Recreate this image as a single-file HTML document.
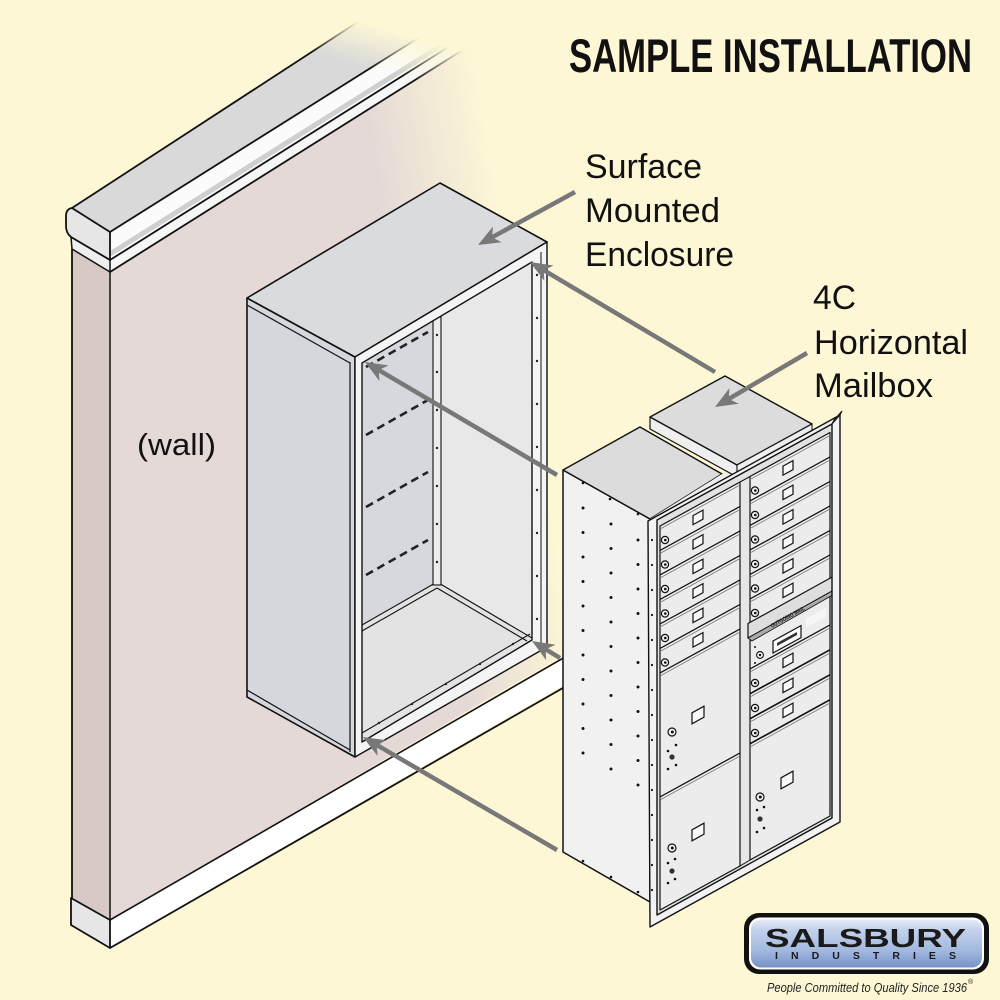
<!DOCTYPE html>
<html><head><meta charset="utf-8"><title>Sample Installation</title>
<style>html,body{margin:0;padding:0;background:#fdf7d6;width:1000px;height:1000px;overflow:hidden}svg{display:block}</style>
</head><body>
<svg width="1000" height="1000" viewBox="0 0 1000 1000" xmlns="http://www.w3.org/2000/svg">
<defs>
 <linearGradient id="fade" gradientUnits="userSpaceOnUse" x1="411" y1="370" x2="524" y2="351">
  <stop offset="0" stop-color="#fff"/><stop offset="1" stop-color="#000"/>
 </linearGradient>
 <mask id="wm" maskUnits="userSpaceOnUse" x="0" y="-200" width="1000" height="1200">
  <rect x="0" y="-200" width="1000" height="1200" fill="url(#fade)"/>
 </mask>
 <linearGradient id="capfade" gradientUnits="userSpaceOnUse" x1="335" y1="58" x2="346" y2="18">
  <stop offset="0" stop-color="#fff"/><stop offset="1" stop-color="#000"/>
 </linearGradient>
 <mask id="cm" maskUnits="userSpaceOnUse" x="0" y="-200" width="1000" height="1200">
  <rect x="0" y="-200" width="1000" height="1200" fill="url(#capfade)"/>
 </mask>
 <linearGradient id="blue" x1="0" y1="0" x2="0" y2="1">
  <stop offset="0" stop-color="#e4ebf7"/><stop offset="0.2" stop-color="#c5d3ec"/><stop offset="0.65" stop-color="#a2b8df"/><stop offset="1" stop-color="#7592c8"/>
 </linearGradient>
 <g id="sd">
  <polygon points="0,0 80,-44 80,-19.5 0,24.5" fill="#ececec" stroke="#111" stroke-width="1.2" stroke-linejoin="round"/>
  <line x1="0" y1="3" x2="80" y2="-41" stroke="#777" stroke-width="0.8"/>
  <polygon points="33,-10.4 43,-15.9 43,-6.9 33,-1.4" fill="#f8f8f8" stroke="#111" stroke-width="1.2"/>
  <circle cx="5" cy="14" r="3.6" fill="#f4f4f4" stroke="#111" stroke-width="1.2"/>
  <circle cx="5.3" cy="14" r="1.3" fill="#111"/>
 </g>
</defs>
<rect width="1000" height="1000" fill="#fdf7d6"/>

<!-- WALL face (faded) -->
<g mask="url(#wm)">
 <polygon points="110,272 760,-137 760,540 110,920" fill="#e4d9d6"/>
</g>
<!-- CAP (faded) -->
<g mask="url(#cm)">
 <polygon points="72,208 110,232 620,-89 582,-124" fill="#d9d9d9"/>
 <polygon points="110,232 620,-89 620,-61 110,260" fill="#fbfbfb"/>
 <line x1="110" y1="254" x2="620" y2="-67" stroke="#cfcfcf" stroke-width="5"/>
 <polygon points="110,260 620,-61 620,-49 110,272" fill="#f6f6f6"/>
 <g stroke="#111" stroke-width="1.8" fill="none">
  <line x1="72" y1="208" x2="582" y2="-124"/>
  <line x1="110" y1="232" x2="620" y2="-89"/>
  <line x1="110" y1="260" x2="620" y2="-61"/>
  <line x1="110" y1="272" x2="620" y2="-49"/>
 </g>
</g>
<!-- wall narrow face -->
<polygon points="72,249 110,272 110,920 72,898" fill="#d8c9c7"/>
<line x1="72" y1="249" x2="72" y2="898" stroke="#111" stroke-width="1.8"/>
<line x1="110" y1="272" x2="110" y2="920" stroke="#111" stroke-width="1.5"/>
<!-- molding front end -->
<polygon points="71,237 110,260 110,272 72,249" fill="#eeeeee" stroke="#111" stroke-width="1.5" stroke-linejoin="round"/>
<!-- cap front end -->
<path d="M72,208 L110,232 L110,260 L71,237 Q66,233 66,226 L66,216 Q66,209 72,208 Z" fill="#e6e6e6" stroke="#111" stroke-width="1.8" stroke-linejoin="round"/>
<!-- baseboard -->
<polygon points="110,920 620,625 620,652 110,948" fill="#ffffff"/>
<polygon points="71,898 110,920 110,948 71,925" fill="#e6e6e6" stroke="#111" stroke-width="1.8" stroke-linejoin="round"/>
<line x1="110" y1="920" x2="600" y2="636.8" stroke="#111" stroke-width="1.6"/>
<line x1="110" y1="948" x2="600" y2="666.7" stroke="#111" stroke-width="1.8"/>

<!-- ENCLOSURE -->
<polygon points="247,298 355,357 355,757 247,697" fill="#d4d7db" stroke="#111" stroke-width="1.6" stroke-linejoin="round"/>
<line x1="247" y1="305" x2="350" y2="363" stroke="#111" stroke-width="1.2"/>
<line x1="247" y1="690" x2="350" y2="750" stroke="#111" stroke-width="1.2"/>
<line x1="350" y1="362" x2="350" y2="752" stroke="#111" stroke-width="1.2"/>
<polygon points="247,298 440,183 547,242 355,357" fill="#d9dbdf" stroke="#111" stroke-width="1.6" stroke-linejoin="round"/>
<!-- interior -->
<polygon points="362,363 437,318 437,582 362,625" fill="#d5d8dc"/>
<polygon points="437,318 532,262 532,638 437,582" fill="#e8e8e8"/>
<polygon points="362,625 437,582 532,638 532,642 362,742" fill="#e3e3e3"/>
<g stroke="#111" stroke-width="1.1" fill="none">
 <line x1="362" y1="625" x2="437" y2="582"/>
 <line x1="362" y1="631" x2="437" y2="588"/>
 <line x1="437" y1="582" x2="532" y2="638"/>
 <line x1="437" y1="588" x2="527" y2="641"/>
 <line x1="362" y1="733" x2="530" y2="634"/>
</g>
<rect x="433" y="317" width="8" height="268" fill="#ececec" stroke="#111" stroke-width="1.1"/>
<g fill="#222">
 <circle cx="437" cy="335" r="1.2"/><circle cx="437" cy="372" r="1.2"/><circle cx="437" cy="410" r="1.2"/><circle cx="437" cy="448" r="1.2"/><circle cx="437" cy="486" r="1.2"/><circle cx="437" cy="524" r="1.2"/><circle cx="437" cy="562" r="1.2"/>
 <circle cx="379" cy="723" r="1.2"/><circle cx="412" cy="704" r="1.2"/><circle cx="446" cy="684" r="1.2"/><circle cx="480" cy="664" r="1.2"/><circle cx="513" cy="644" r="1.2"/>
</g>
<g stroke="#222" stroke-width="2.6" stroke-dasharray="8,5" fill="none">
 <line x1="366" y1="367" x2="428" y2="332"/>
 <line x1="366" y1="435" x2="428" y2="400"/>
 <line x1="366" y1="507" x2="428" y2="472"/>
 <line x1="366" y1="575" x2="428" y2="540"/>
</g>
<path d="M355,357 L547,242 L547,647 L355,757 Z M362,363 L532,262 L532,640 L362,742 Z" fill="#f4f4f4" fill-rule="evenodd" stroke="#111" stroke-width="1.4" stroke-linejoin="round"/>
<line x1="541" y1="252" x2="541" y2="643" stroke="#111" stroke-width="1"/>
<g fill="#222">
 <circle cx="537" cy="275" r="1.2"/><circle cx="537" cy="318" r="1.2"/><circle cx="537" cy="361" r="1.2"/><circle cx="537" cy="404" r="1.2"/><circle cx="537" cy="447" r="1.2"/><circle cx="537" cy="490" r="1.2"/><circle cx="537" cy="533" r="1.2"/><circle cx="537" cy="576" r="1.2"/><circle cx="537" cy="619" r="1.2"/>
</g>

<!-- MAILBOX -->
<polygon points="563,470 650,519 650,902 563,852" fill="#f1f1f1" stroke="#111" stroke-width="1.5" stroke-linejoin="round"/>
<g fill="#111">
 <circle cx="583" cy="483" r="1.3"/><circle cx="610" cy="499" r="1.3"/><circle cx="638" cy="514" r="1.3"/>
 <circle cx="583" cy="508" r="1.5"/><circle cx="583" cy="532.5" r="1.5"/><circle cx="583" cy="557" r="1.5"/><circle cx="583" cy="581.5" r="1.5"/><circle cx="583" cy="606" r="1.5"/><circle cx="583" cy="630.5" r="1.5"/><circle cx="583" cy="655" r="1.5"/><circle cx="583" cy="679.5" r="1.5"/><circle cx="583" cy="704" r="1.5"/><circle cx="583" cy="728.5" r="1.5"/><circle cx="583" cy="753" r="1.5"/>
 <circle cx="611" cy="524" r="1.5"/><circle cx="611" cy="548.5" r="1.5"/><circle cx="611" cy="573" r="1.5"/><circle cx="611" cy="597.5" r="1.5"/><circle cx="611" cy="622" r="1.5"/><circle cx="611" cy="646.5" r="1.5"/><circle cx="611" cy="671" r="1.5"/><circle cx="611" cy="695.5" r="1.5"/><circle cx="611" cy="720" r="1.5"/><circle cx="611" cy="744.5" r="1.5"/><circle cx="611" cy="769" r="1.5"/>
 <circle cx="638" cy="540" r="1.5"/><circle cx="638" cy="564.5" r="1.5"/><circle cx="638" cy="589" r="1.5"/><circle cx="638" cy="613.5" r="1.5"/><circle cx="638" cy="638" r="1.5"/><circle cx="638" cy="662.5" r="1.5"/><circle cx="638" cy="687" r="1.5"/><circle cx="638" cy="711.5" r="1.5"/><circle cx="638" cy="736" r="1.5"/><circle cx="638" cy="760.5" r="1.5"/><circle cx="638" cy="785" r="1.5"/>
 <circle cx="583" cy="861" r="1.3"/><circle cx="611" cy="877" r="1.3"/><circle cx="638" cy="892" r="1.3"/>
</g>
<!-- tops -->
<polygon points="563,470 640,427 722,474 650,519" fill="#dcdcdc" stroke="#111" stroke-width="1.4" stroke-linejoin="round"/>
<polygon points="650,519 722,474 737,476 737,479 650,526" fill="#eeeeee"/>
<polygon points="650,417 737,465 737,477 650,429" fill="#efefef" stroke="#111" stroke-width="1.2" stroke-linejoin="round"/>
<polygon points="650,417 725,376 812,424 737,465" fill="#dcdcdc" stroke="#111" stroke-width="1.4" stroke-linejoin="round"/>
<polygon points="737,465 812,424 812,431 737,472" fill="#eeeeee" stroke="#111" stroke-width="1"/>
<!-- front panel -->
<polygon points="657,520 832,424 832,818 657,915" fill="#e2e2e2"/>
<polygon points="740,482 750,476.5 750,860 740,866" fill="#e6e6e6" stroke="#111" stroke-width="1"/>
<!-- left column small doors -->
<use href="#sd" x="660" y="526"/>
<use href="#sd" x="660" y="550.5"/>
<use href="#sd" x="660" y="575"/>
<use href="#sd" x="660" y="599.5"/>
<use href="#sd" x="660" y="624"/>
<use href="#sd" x="660" y="648.5"/>
<!-- left parcel 1 -->
<g transform="translate(660,673)">
 <polygon points="0,0 80,-44 80,80 0,124" fill="#ececec" stroke="#111" stroke-width="1.2" stroke-linejoin="round"/>
 <line x1="0" y1="3" x2="80" y2="-41" stroke="#777" stroke-width="0.8"/>
 <polygon points="32,39.8 44,33.2 44,44.2 32,50.8" fill="#f8f8f8" stroke="#111" stroke-width="1.2"/>
 <circle cx="12" cy="59" r="4" fill="#f4f4f4" stroke="#111" stroke-width="1.2"/><circle cx="12.3" cy="59" r="1.5" fill="#111"/>
 <circle cx="8" cy="78" r="1.3" fill="#111"/><circle cx="16" cy="72" r="1.3" fill="#111"/><circle cx="12" cy="84" r="2.6" fill="#333"/><circle cx="8" cy="96" r="1.3" fill="#111"/><circle cx="16" cy="92" r="1.3" fill="#111"/>
</g>
<!-- left parcel 2 -->
<g transform="translate(660,797)">
 <polygon points="0,0 80,-44 80,69 0,113" fill="#ececec" stroke="#111" stroke-width="1.2" stroke-linejoin="round"/>
 <line x1="0" y1="3" x2="80" y2="-41" stroke="#777" stroke-width="0.8"/>
 <polygon points="32,32.8 44,26.2 44,37.2 32,43.8" fill="#f8f8f8" stroke="#111" stroke-width="1.2"/>
 <circle cx="12" cy="51" r="4" fill="#f4f4f4" stroke="#111" stroke-width="1.2"/><circle cx="12.3" cy="51" r="1.5" fill="#111"/>
 <circle cx="15" cy="62" r="1.3" fill="#111"/><circle cx="8" cy="66" r="1.3" fill="#111"/><circle cx="12" cy="74" r="2.6" fill="#333"/><circle cx="15" cy="82" r="1.3" fill="#111"/><circle cx="8" cy="86" r="1.3" fill="#111"/>
</g>
<!-- right column small doors -->
<use href="#sd" x="750" y="476.5"/>
<use href="#sd" x="750" y="501"/>
<use href="#sd" x="750" y="525.5"/>
<use href="#sd" x="750" y="550"/>
<use href="#sd" x="750" y="574.5"/>
<use href="#sd" x="750" y="599"/>
<!-- master panel -->
<polygon points="750,638.5 830,594.5 830,625 750,669" fill="#ececec" stroke="#111" stroke-width="1.2" stroke-linejoin="round"/>
<polygon points="773,641 801,625.6 801,637.6 773,653" fill="#fafafa" stroke="#111" stroke-width="1.2"/>
<polygon points="777,643 797,632 797,635 777,646" fill="#333"/>
<polygon points="806,619 826,608 826,617 806,628" fill="#f6f6f6"/>
<circle cx="760" cy="655" r="3.4" fill="#f4f4f4" stroke="#111" stroke-width="1.1"/><circle cx="760" cy="655" r="1.2" fill="#111"/>
<circle cx="755" cy="647" r="1" fill="#111"/><circle cx="755" cy="663" r="1" fill="#111"/>
<!-- outgoing slot -->
<polygon points="748,623.5 834,576 834,590 748,638" fill="#dedede" stroke="#111" stroke-width="1.2" stroke-linejoin="round"/>
<polygon points="748,638 834,590 838,592 752,641" fill="#aaaaaa" stroke="#111" stroke-width="0.8"/>
<text x="772" y="628" transform="rotate(-29 772 628)" font-family="'Liberation Sans', sans-serif" font-size="6" font-weight="bold" fill="#222" textLength="38" lengthAdjust="spacingAndGlyphs">OUTGOING MAIL</text>
<!-- right lower small doors -->
<use href="#sd" x="750" y="669"/>
<use href="#sd" x="750" y="694"/>
<use href="#sd" x="750" y="719"/>
<!-- right parcel -->
<g transform="translate(750,744)">
 <polygon points="0,0 80,-44 80,72 0,116" fill="#ececec" stroke="#111" stroke-width="1.2" stroke-linejoin="round"/>
 <line x1="0" y1="3" x2="80" y2="-41" stroke="#777" stroke-width="0.8"/>
 <polygon points="31,33.8 43,27.2 43,38.2 31,44.8" fill="#f8f8f8" stroke="#111" stroke-width="1.2"/>
 <circle cx="10" cy="53" r="4" fill="#f4f4f4" stroke="#111" stroke-width="1.2"/><circle cx="10.3" cy="53" r="1.5" fill="#111"/>
 <circle cx="14" cy="63" r="1.3" fill="#111"/><circle cx="7" cy="66" r="1.3" fill="#111"/><circle cx="10" cy="75" r="2.6" fill="#333"/><circle cx="14" cy="84" r="1.3" fill="#111"/><circle cx="7" cy="88" r="1.3" fill="#111"/>
</g>
<!-- frame -->
<path d="M648,521 L840,415 L840,822 L650,927 Z M657,520 L832,424 L832,818 L657,915 Z" fill="#f2f2f2" fill-rule="evenodd" stroke="#111" stroke-width="1.4" stroke-linejoin="round"/>
<polygon points="832,424 840,415 842,411 834,420" fill="#ddd" stroke="#111" stroke-width="1"/>
<g fill="#111">
 <circle cx="652" cy="540" r="1.1"/><circle cx="652" cy="565" r="1.1"/><circle cx="652" cy="590" r="1.1"/><circle cx="652" cy="615" r="1.1"/><circle cx="652" cy="640" r="1.1"/><circle cx="652" cy="665" r="1.1"/><circle cx="652" cy="690" r="1.1"/><circle cx="652" cy="715" r="1.1"/><circle cx="652" cy="740" r="1.1"/><circle cx="652" cy="765" r="1.1"/><circle cx="652" cy="790" r="1.1"/><circle cx="652" cy="815" r="1.1"/><circle cx="652" cy="840" r="1.1"/><circle cx="652" cy="865" r="1.1"/><circle cx="652" cy="890" r="1.1"/>
</g>

<!-- ARROWS -->
<g stroke="#787878" stroke-width="4.5" fill="none">
 <line x1="575" y1="192" x2="492" y2="237.3"/>
 <line x1="715" y1="372" x2="543.8" y2="270.2"/>
 <line x1="807" y1="353" x2="728.8" y2="398.9"/>
 <line x1="557" y1="475" x2="378.8" y2="370.1"/>
 <line x1="560" y1="658" x2="545.7" y2="649.3"/>
 <line x1="557" y1="850" x2="376.8" y2="745"/>
</g>
<g fill="#787878">
 <polygon points="478,245 493,226.5 492,237.3 501.6,242.3"/>
 <polygon points="530,262 553.5,265.5 543.8,270.2 544.3,280.9"/>
 <polygon points="715,407 729.4,388.1 728.8,398.9 738.6,403.7"/>
 <polygon points="365,362 388.5,365.4 378.8,370.1 379.4,381"/>
 <polygon points="532,641 555.5,644.7 545.7,649.3 546.1,660.1"/>
 <polygon points="363,737 386.5,740.3 376.8,745 377.5,755.9"/>
</g>

<!-- TEXT -->
<text x="569" y="72" font-family="'Liberation Sans Narrow','Liberation Sans',sans-serif" font-weight="bold" font-size="47" fill="#111" textLength="403" lengthAdjust="spacingAndGlyphs">SAMPLE INSTALLATION</text>
<g font-family="'Liberation Sans',sans-serif" font-size="34" fill="#111">
 <text x="585" y="178" textLength="117" lengthAdjust="spacingAndGlyphs">Surface</text>
 <text x="585" y="222" textLength="135" lengthAdjust="spacingAndGlyphs">Mounted</text>
 <text x="585" y="266" textLength="149" lengthAdjust="spacingAndGlyphs">Enclosure</text>
 <text x="813" y="309" textLength="43" lengthAdjust="spacingAndGlyphs">4C</text>
 <text x="814" y="354" textLength="154" lengthAdjust="spacingAndGlyphs">Horizontal</text>
 <text x="814" y="397" textLength="119" lengthAdjust="spacingAndGlyphs">Mailbox</text>
 <text x="137" y="455" font-size="31" textLength="79" lengthAdjust="spacingAndGlyphs">(wall)</text>
</g>

<!-- LOGO -->
<rect x="744" y="913" width="245" height="61" rx="15" fill="#111"/>
<rect x="749" y="917.5" width="235" height="52" rx="11" fill="#fff"/>
<rect x="751" y="919.5" width="231" height="48" rx="10" fill="url(#blue)"/>
<text x="765" y="947" font-family="'Liberation Sans',sans-serif" font-weight="bold" font-size="26" fill="#1a1a1a" textLength="201" lengthAdjust="spacingAndGlyphs">SALSBURY</text>
<text x="775" y="959" font-family="'Liberation Sans',sans-serif" font-weight="bold" font-size="10.5" fill="#1a1a1a" textLength="181" lengthAdjust="spacing">INDUSTRIES</text>
<text x="767" y="992" font-family="'Liberation Sans Narrow','Liberation Sans',sans-serif" font-style="italic" font-size="13" fill="#222" textLength="200" lengthAdjust="spacingAndGlyphs">People Committed to Quality Since 1936</text>
<text x="968" y="984" font-family="'Liberation Sans',sans-serif" font-size="7" fill="#222">®</text>
</svg>
</body></html>
